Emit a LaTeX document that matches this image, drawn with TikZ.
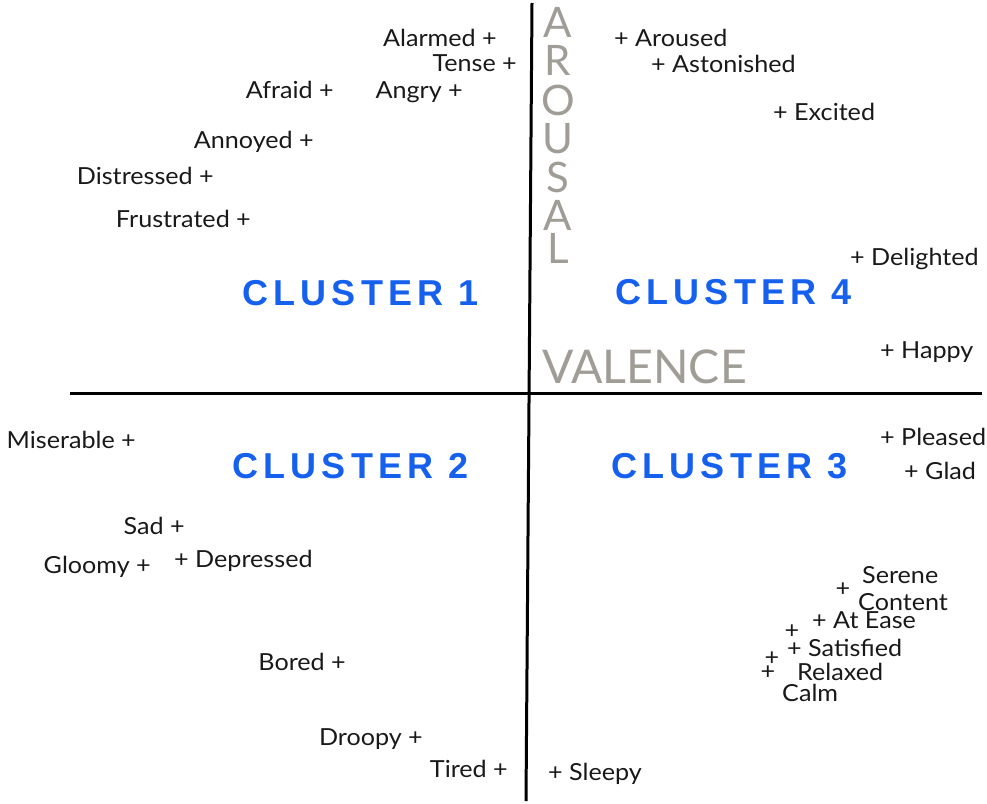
\documentclass[tikz,border=0pt]{standalone}
\usepackage{fontspec}
\setmainfont{Lato}
\newfontfamily\emofont[FakeStretch=1.07]{Lato}
\newfontfamily\clusterfont[LetterSpace=14.5]{Liberation Sans Bold}
\begin{document}
\begin{tikzpicture}[x=1pt,y=-1pt,
  emo/.style={inner sep=0pt,font=\emofont\fontsize{23.5}{23.5}\selectfont,
    text=black!90,text height=14pt,text depth=3pt},
  lft/.style={emo,anchor=base east},
  rgt/.style={emo,anchor=base west},
  plus/.style={emo,anchor=base,text height=12pt,text depth=0pt},
  cluster/.style={inner sep=0pt,anchor=base west,text=clusterblue,
    font=\clusterfont\fontsize{36}{36}\selectfont},
  axislabel/.style={inner sep=0pt,text=axisgrey,text height=28pt,text depth=0pt},
  axis/.style={line width=3pt,black}]
\definecolor{clusterblue}{RGB}{22,96,238}
\definecolor{axisgrey}{RGB}{160,156,150}
\useasboundingbox (0,0) rectangle (987,803);

% axes
\coordinate (vtop) at (532,3);
\coordinate (vbot) at (526,801);
\coordinate (hleft) at (70,393);
\coordinate (hright) at (982,393);
\draw[axis] (vtop) -- (vbot);
\draw[axis] (hleft) -- (hright);

% axis titles
\foreach \ch/\yy [count=\i] in {A/37,R/75,O/115,U/153,S/192,A/230,L/263}
  \node[axislabel,anchor=base,font=\fontsize{42}{42}\selectfont] (arousal\i) at (558,\yy) {\ch};
\node[axislabel,anchor=base west,text height=35pt,font=\fontsize{46.5}{46.5}\selectfont] (valence) at (542,383) {VALENCE};

% cluster titles
\node[cluster] (c1) at (242,305) {CLUSTER 1};
\node[cluster] (c4) at (615,304) {CLUSTER 4};
\node[cluster] (c2) at (232,478) {CLUSTER 2};
\node[cluster] (c3) at (611,478) {CLUSTER 3};

% upper left
\node[lft] (alarmed) at (497,46) {Alarmed +};
\node[lft] (tense) at (517,71) {Tense +};
\node[lft] (afraid) at (334,98) {Afraid +};
\node[lft] (angry) at (463,98) {Angry +};
\node[lft] (annoyed) at (314,148) {Annoyed +};
\node[lft] (distressed) at (214,184) {Distressed +};
\node[lft] (frustrated) at (251,227) {Frustrated +};

% lower left
\node[lft] (miserable) at (136,448) {Miserable +};
\node[lft] (sad) at (185,534) {Sad +};
\node[lft] (gloomy) at (151,573) {Gloomy +};
\node[rgt] (depressed) at (174,567) {+ Depressed};
\node[lft] (bored) at (346,670) {Bored +};
\node[lft] (droopy) at (423,745) {Droopy +};
\node[lft] (tired) at (508,777) {Tired +};
\node[rgt] (sleepy) at (548,780) {+ Sleepy};

% upper right
\node[rgt] (aroused) at (614,46) {+ Aroused};
\node[rgt] (astonished) at (651,72) {+ Astonished};
\node[rgt] (excited) at (773,120) {+ Excited};
\node[rgt] (delighted) at (850,265) {+ Delighted};
\node[rgt] (happy) at (880,358) {+ Happy};

% lower right
\node[rgt] (pleased) at (880,445) {+ Pleased};
\node[rgt] (glad) at (904,479) {+ Glad};
\node[rgt] (serene) at (862,583) {Serene};
\node[plus] (sereneplus) at (843,596) {+};
\node[rgt] (content) at (858,610) {Content};
\node[rgt] (atease) at (812,628) {+ At Ease};
\node[plus] (contentplus) at (792,638) {+};
\node[rgt] (satisfied) at (787,656) {+ Satisfied};
\node[plus] (relaxedplus) at (772,665) {+};
\node[plus] (calmplus) at (768,679) {+};
\node[rgt] (relaxed) at (797,680) {Relaxed};
\node[rgt] (calm) at (782,701) {Calm};
\end{tikzpicture}
\end{document}
